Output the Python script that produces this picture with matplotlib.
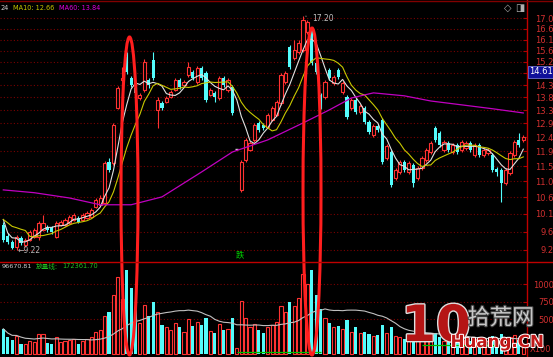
import numpy as np
import pandas as pd
import matplotlib
matplotlib.use("Agg")
import matplotlib.pyplot as plt
from matplotlib.patches import Ellipse, Rectangle
from matplotlib.lines import Line2D
from matplotlib.ticker import NullLocator, FixedLocator, FixedFormatter
import matplotlib.patheffects as pe

plt.rcParams['font.family'] = ['DejaVu Sans', 'Noto Sans CJK SC']

# ---------------- data ----------------
opens = [9.86, 9.58, 9.42, 9.30, 9.52, 9.35, 9.47, 9.55, 9.55, 9.73,
         9.81, 9.78, 9.55, 9.86, 9.86, 9.91, 9.99, 10.04, 9.99, 10.04,
         10.07, 10.34, 10.40, 10.45, 11.66, 11.62, 13.46, 14.50, 15.41, 14.58,
         14.20, 13.82, 14.12, 14.50, 15.29, 13.39, 13.64, 13.68, 13.86, 14.12,
         14.50, 14.31, 14.69, 14.81, 14.42, 14.97, 14.77, 13.93, 14.01, 13.82,
         14.58, 14.12, 14.23, 12.06, 10.82, 11.72, 12.03, 12.36, 12.93, 12.86,
         12.79, 13.04, 13.21, 13.64, 14.42, 15.84, 15.38, 15.63, 15.71, 16.48,
         16.57, 15.17, 13.93, 13.86, 14.89, 14.38, 14.89, 14.04, 13.86, 13.46,
         13.75, 13.32, 13.46, 12.97, 12.52, 12.83, 13.04, 11.78, 11.97, 11.17,
         11.35, 11.66, 11.35, 11.56, 11.17, 11.47, 11.72, 11.97, 12.76, 12.59,
         12.03, 12.26, 11.97, 12.20, 12.03, 12.10, 12.26, 11.88, 12.20, 11.88,
         11.94, 11.88, 11.44, 11.41, 11.02, 11.32, 11.88, 12.36, 12.36]
highs = [9.94, 9.65, 9.47, 9.60, 9.57, 9.52, 9.73, 9.78, 9.96, 10.12,
         9.86, 9.83, 9.96, 9.99, 10.04, 10.12, 10.18, 10.10, 10.18, 10.23,
         10.31, 10.59, 10.68, 11.69, 11.78, 12.93, 14.27, 15.01, 15.63, 14.65,
         14.27, 14.01, 15.33, 14.58, 15.63, 13.86, 13.71, 13.89, 14.12, 14.58,
         14.58, 14.50, 15.21, 14.89, 15.05, 15.05, 14.85, 14.20, 14.08, 14.65,
         14.65, 14.58, 14.31, 12.06, 11.72, 12.42, 12.32, 12.93, 13.00, 12.93,
         13.28, 13.53, 13.75, 14.77, 14.85, 15.92, 16.13, 16.13, 17.20, 17.01,
         16.70, 15.25, 14.01, 14.50, 14.97, 14.69, 14.97, 14.46, 13.93, 13.82,
         13.82, 13.60, 13.53, 13.04, 12.90, 12.90, 13.10, 12.22, 12.03, 11.47,
         11.72, 11.72, 11.68, 11.62, 11.53, 11.84, 12.09, 12.32, 12.83, 12.66,
         12.36, 12.32, 12.26, 12.26, 12.36, 12.32, 12.32, 12.26, 12.26, 12.09,
         12.09, 11.94, 11.50, 11.47, 11.47, 12.00, 12.36, 12.59, 12.52]
lows = [9.42, 9.37, 9.25, 9.22, 9.35, 9.30, 9.45, 9.52, 9.47, 9.70,
        9.68, 9.63, 9.52, 9.83, 9.83, 9.89, 9.96, 9.91, 9.96, 10.01,
        10.04, 10.31, 10.37, 10.42, 11.35, 11.56, 13.43, 14.23, 14.73, 14.23,
        13.93, 13.75, 14.04, 14.20, 14.50, 12.76, 13.39, 13.64, 13.82, 14.08,
        14.16, 14.23, 14.61, 14.50, 14.35, 14.50, 13.68, 13.89, 13.68, 13.75,
        14.23, 14.04, 13.21, 12.06, 10.76, 11.66, 12.00, 12.29, 12.62, 12.69,
        12.76, 13.00, 13.18, 13.57, 14.35, 14.93, 15.29, 15.54, 15.63, 16.40,
        15.09, 14.73, 13.43, 13.79, 14.50, 14.31, 14.54, 13.97, 13.07, 13.39,
        13.25, 13.25, 12.90, 12.55, 12.45, 12.62, 11.60, 11.72, 10.90, 11.11,
        11.29, 11.35, 11.29, 10.90, 11.11, 11.41, 11.66, 11.91, 12.29, 12.14,
        11.97, 11.97, 11.91, 11.91, 11.97, 12.03, 11.97, 11.82, 11.82, 11.82,
        11.88, 11.35, 11.23, 10.47, 10.97, 11.26, 11.82, 12.14, 12.29]
closes = [9.47, 9.42, 9.27, 9.55, 9.40, 9.47, 9.68, 9.73, 9.91, 9.91,
          9.73, 9.68, 9.91, 9.94, 9.99, 10.07, 10.12, 9.94, 10.12, 10.18,
          10.26, 10.53, 10.59, 11.62, 11.41, 12.86, 14.20, 14.58, 14.81, 14.31,
          14.01, 13.93, 15.21, 14.31, 14.58, 13.75, 13.46, 13.82, 14.04, 14.50,
          14.23, 14.42, 15.01, 14.58, 14.97, 14.58, 13.75, 14.12, 13.86, 14.58,
          14.31, 14.50, 13.28, 12.06, 11.66, 12.36, 12.26, 12.86, 12.69, 12.76,
          13.21, 13.46, 13.68, 14.69, 14.77, 15.01, 15.71, 16.01, 17.01, 16.92,
          15.17, 14.81, 13.50, 14.42, 14.58, 14.61, 14.61, 14.38, 13.14, 13.75,
          13.32, 13.53, 12.97, 12.62, 12.83, 12.69, 11.66, 12.16, 10.97, 11.41,
          11.66, 11.41, 11.62, 11.02, 11.47, 11.78, 12.03, 12.26, 12.36, 12.20,
          12.29, 12.03, 12.20, 11.97, 12.29, 12.26, 12.03, 12.20, 11.88, 12.03,
          12.03, 11.41, 11.35, 11.02, 11.41, 11.94, 12.29, 12.20, 12.46]
prev_closes = [10.3, 10.2, 9.9, 9.8, 9.8, 11.17, 9.9, 9.6, 9.86]

volumes = [3600, 2400, 2000, 2600, 1500, 1400, 1900, 1700, 2800, 2900, 1600, 1400,
           2400, 1700, 1800, 2000, 2100, 1500, 1900, 2100, 2500, 3200, 3500,
           5500, 6000, 8500, 11000, 7800, 12000, 9500,
           6500, 4500, 7000, 5500, 7500, 6000, 4200, 3800, 3500, 4500, 3900, 3200,
           5000, 4000, 4600, 4200, 5200, 3300, 3000, 4300, 3500, 3600, 5200,
           900, 7600, 5200, 3800, 4300, 3400, 3000, 3900, 4200, 4600, 6800, 6000,
           7500, 6800, 8000, 11500, 10000, 12000, 8500, 6500,
           5200, 4500, 3800, 4000, 3600, 4800, 3200, 3800, 3000, 3200, 2900, 2600,
           2700, 4200, 3000, 3900, 2600, 2400, 2200, 2100, 2900, 2300, 2500, 2800,
           2700, 3000, 2500,
           1800, 2200, 1700, 1900, 2300, 2000, 1800, 2100, 1900,
           1700, 1900, 2600, 1800, 2800, 2200, 2500, 2700, 2000, 1500]

ma60_idx = [0, 7, 15, 22, 29, 36, 45, 52, 60, 68, 74, 79, 84, 91, 97, 104, 111, 118]
ma60_val = [10.82, 10.74, 10.59, 10.40, 10.40, 10.62, 11.35, 11.97, 12.36, 12.93,
            13.39, 13.82, 14.01, 13.90, 13.71, 13.57, 13.43, 13.28]

fl_start = [53, 95]
fl_end = [72, 112]
fl_val = [250, 1300]

price_labels = ["9.22", "9.68", "10.15", "10.61", "11.07", "11.53", "11.99", "12.45",
                "12.92", "13.38", "13.84", "14.30", "14.76", "15.22", "15.68", "16.14",
                "16.61", "17.08"]
vol_labels = ["10000", "7500", "5000"]

header_texts = ["24", "MA10: 12.66", "MA60: 13.84"]
vol_header = ["96670.81", "放量线:", "172361.70"]
last_price = "14.61"
low_mark = "9.22"
high_mark = "17.20"

# ---------------- figure ----------------
W, H = 553, 357
RED = '#ff3232'
CYAN = '#54fcfc'
AXRED = '#b00000'
GRID = '#7a0000'
LBL = '#d23030'

fig = plt.figure(figsize=(W / 100, H / 100), dpi=100, facecolor='black')
axp = fig.add_axes([0, 95 / H, 527 / W, 262 / H])
axv = fig.add_axes([0, 0, 527 / W, 95 / H])
for ax in (axp, axv):
    ax.set_facecolor('black')
    for s in ax.spines.values():
        s.set_visible(False)
    ax.tick_params(axis='x', bottom=False, labelbottom=False)

O = np.array(opens); Hh = np.array(highs); L = np.array(lows); C = np.array(closes)
N = len(C)
x = np.arange(N)
up = C > O
dn = C < O
eq = C == O
bw = 0.72

axp.set_yscale('log')
axp.set_xlim(-0.75, 118.84)
axp.set_ylim(8.93, 17.94)

tick_vals = [float(t) for t in price_labels]
axp.hlines(tick_vals, -0.75, 118.84, colors=GRID, linestyles=(0, (1, 2)), lw=0.8, zorder=0)

wcol = np.where(up, RED, np.where(dn, CYAN, '#d0d0d0'))
axp.vlines(x, L, Hh, colors=list(wcol), lw=0.8, zorder=1)
axp.bar(x[up], (C - O)[up], bottom=O[up], width=bw, facecolor='black',
        edgecolor=RED, lw=0.8, zorder=2)
axp.bar(x[dn], (O - C)[dn], bottom=C[dn], width=bw, color=CYAN, lw=0, zorder=2)
axp.hlines(C[eq], x[eq] - bw / 2, x[eq] + bw / 2, colors='#d0d0d0', lw=1, zorder=2)

allc = pd.Series(prev_closes + closes)
ma5 = allc.rolling(5).mean().iloc[len(prev_closes):].to_numpy()
ma10 = allc.rolling(10).mean().iloc[len(prev_closes):].to_numpy()
axp.plot(x, ma5, color='#e0e0e0', lw=0.8, zorder=3)
axp.plot(x, ma10, color='#c8c800', lw=0.8, zorder=3)
axp.plot(ma60_idx, ma60_val, color='#c000c0', lw=0.9, zorder=3)

axp.yaxis.set_major_locator(FixedLocator(tick_vals))
axp.yaxis.set_minor_locator(NullLocator())
axp.yaxis.set_major_formatter(FixedFormatter(price_labels))
axp.yaxis.tick_right()
axp.tick_params(axis='y', which='major', direction='in', length=3, width=0.8,
                color=AXRED, labelcolor=LBL, labelsize=6, pad=23)
for t in axp.get_yticklabels():
    t.set_ha('right')

# annotations
i_low = int(np.argmin(L))
axp.text(i_low + 0.3, 9.20, "←" + low_mark, color='#b8b8b8', fontsize=5.5,
         va='center', ha='left')
i_high = int(np.argmax(Hh))
axp.annotate(high_mark, xy=(i_high, float(high_mark)), xytext=(i_high + 2.0, 17.10),
             color='#c0c0c0', fontsize=5.5, va='center', ha='left',
             arrowprops=dict(arrowstyle='-', color='#c0c0c0', lw=0.6))
axp.text(53.7, 9.10, "跌", color='#00d000', fontsize=6, ha='center', va='center',
         family=['Noto Sans CJK SC', 'DejaVu Sans'])

# volume panel
V = np.array(volumes, dtype=float)
axv.set_xlim(-0.75, 118.84)
axv.set_ylim(-429, 13146)
vt = [float(v) for v in vol_labels]
axv.hlines(vt, -0.75, 118.84, colors=GRID, linestyles=(0, (1, 2)), lw=0.8, zorder=0)
vup = C >= O
axv.bar(x[vup], V[vup], width=bw, facecolor='black', edgecolor=RED, lw=0.8, zorder=2)
axv.bar(x[~vup], V[~vup], width=bw, color=CYAN, lw=0, zorder=2)
vma = pd.Series(V).rolling(20, min_periods=1).mean().to_numpy()
axv.plot(x, vma, color='#c0c0c0', lw=0.8, zorder=3)
for s, e, v in zip(fl_start, fl_end, fl_val):
    axv.hlines(v, s, e, colors='#00c000', lw=0.9, zorder=3)
axv.yaxis.set_major_locator(FixedLocator(vt))
axv.yaxis.set_minor_locator(NullLocator())
axv.yaxis.set_major_formatter(FixedFormatter(vol_labels))
axv.yaxis.tick_right()
axv.tick_params(axis='y', which='major', direction='in', length=3, width=0.8,
                color=AXRED, labelcolor=LBL, labelsize=6, pad=23)
for t in axv.get_yticklabels():
    t.set_ha('right')

def fx(px):
    return px / W

def fy(py):
    return 1 - py / H

# frame lines
fig.add_artist(Line2D([fx(527), fx(527)], [0, 1], color='#c00000', lw=1))
fig.add_artist(Line2D([0, 1], [fy(262), fy(262)], color='#c00000', lw=1))
fig.add_artist(Line2D([0, 1], [fy(1), fy(1)], color='#800000', lw=1))

# header texts
hs = 4.7
fig.text(fx(0), fy(7.5), header_texts[0], color='#d0d0d0', fontsize=hs, va='center')
fig.text(fx(13), fy(7.5), header_texts[1], color='#c8c800', fontsize=hs, va='center')
fig.text(fx(59), fy(7.5), header_texts[2], color='#e000e0', fontsize=hs, va='center')
fig.text(fx(2), fy(266.5), vol_header[0], color='#d0d0d0', fontsize=4.6, va='center')
fig.text(fx(36), fy(266.5), vol_header[1], color='#20c020', fontsize=4.8, va='center')
fig.text(fx(62), fy(266.5), vol_header[2], color='#20c020', fontsize=4.8, va='center')
fig.text(fx(530), fy(350), "X100", color=LBL, fontsize=6, va='center')

# last price box
fig.add_artist(Rectangle((fx(527.5), fy(78)), fx(26), 12 / H, transform=fig.transFigure,
                         facecolor='#10109a', edgecolor='#7070d0', lw=0.6, zorder=5))
fig.text(fx(529.5), fy(72), last_price, color='white', fontsize=6, va='center', zorder=6)

# icons
fig.text(fx(508), fy(8), "◇", color='#b0b0b0', fontsize=7, ha='center', va='center')
fig.text(fx(520), fy(8), "◨", color='#b0b0b0', fontsize=7, ha='center', va='center')

# red ellipses
fig.add_artist(Ellipse((fx(129.5), fy(196)), 17 / W, 318 / H, transform=fig.transFigure,
                       fill=False, edgecolor='#ff1e1e', lw=2.2))
fig.add_artist(Ellipse((fx(312), fy(191.5)), 18 / W, 327 / H, transform=fig.transFigure,
                       fill=False, edgecolor='#ff1e1e', lw=2.2))

# watermark
fig.text(fx(436), fy(327), "10", fontsize=36, fontweight='bold', color='#b51515',
         ha='center', va='center',
         path_effects=[pe.withStroke(linewidth=2, foreground='#e0e0e0')])
fig.text(fx(501), fy(318), "拾荒网", fontsize=16, color='#c8c8c8', ha='center', va='center',
         family=['Noto Sans CJK SC', 'DejaVu Sans'],
         path_effects=[pe.withStroke(linewidth=1.5, foreground='#404040')])
fig.text(fx(497), fy(342), "Huang.CN", fontsize=12, fontweight='bold', color='#c01818',
         ha='center', va='center',
         path_effects=[pe.withStroke(linewidth=1.5, foreground='white')])

fig.savefig('out.png', dpi=100, facecolor='black')
